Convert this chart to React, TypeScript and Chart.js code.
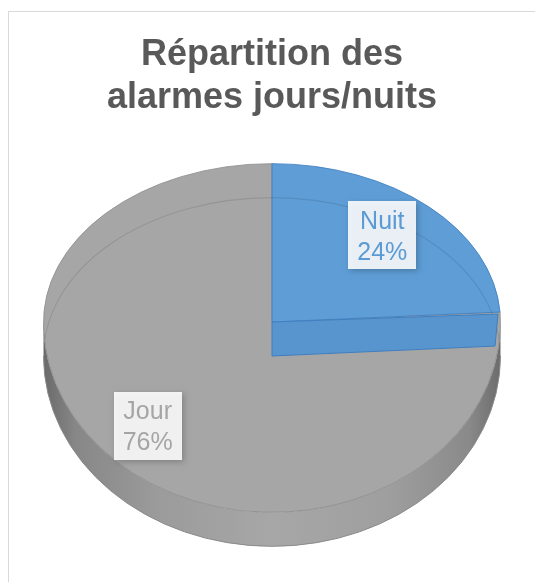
import React, { useEffect, useRef } from "react";
import { Chart, registerables } from "chart.js";

Chart.register(...registerables);

// ---- data ----
const categories = ["Nuit", "Jour"];
const values = [24, 76];
const percentLabels = ["24%", "76%"];
const titleLines = ["Répartition des", "alarmes jours/nuits"];

// ---- styles ----
const sliceColors = ["#5e9dd6", "#a6a6a6"];
const borderColors = ["#3f7fc0", "#8e8e8e"];
const labelColors = ["#5b9bd5", "#a5a5a5"];
const FONT = '"Liberation Sans", Arial, sans-serif';

const FACE_CY = 310; // canvas y of top-face centre
const K_UP = 0.693;
const K_DOWN = 0.833;
const DEPTH = 34;
const LABEL_SHIFT_X = -7;

const pie3d = {
  id: "pie3d",
  beforeDatasetsDraw(chart: any) {
    const arcs = chart.getDatasetMeta(0).data;
    if (!arcs.length) return false;
    const ctx: CanvasRenderingContext2D = chart.ctx;
    const cx = arcs[0].x;
    const cy = arcs[0].y;
    const R = arcs[0].outerRadius;
    const fy = FACE_CY;

    // side walls (front half only)
    const grad = ctx.createLinearGradient(cx - R, 0, cx + R, 0);
    grad.addColorStop(0, "#6a6a6a");
    grad.addColorStop(0.07, "#878787");
    grad.addColorStop(0.25, "#9b9b9b");
    grad.addColorStop(0.5, "#a7a7a7");
    grad.addColorStop(0.75, "#9f9f9f");
    grad.addColorStop(0.93, "#8a8a8a");
    grad.addColorStop(1, "#6c6c6c");
    arcs.forEach((arc: any, i: number) => {
      const a0 = Math.max(arc.startAngle, 0);
      const a1 = Math.min(arc.endAngle, Math.PI);
      if (a1 <= a0) return;
      ctx.beginPath();
      ctx.ellipse(cx, fy, R, R * K_DOWN, 0, a0, a1);
      ctx.ellipse(cx, fy + DEPTH, R, R * K_DOWN, 0, a1, a0, true);
      ctx.closePath();
      ctx.fillStyle = i === 1 ? grad : "#4f8bc4";
      ctx.fill();
    });
    ctx.beginPath();
    ctx.ellipse(cx, fy + DEPTH, R, R * K_DOWN, 0, 0, Math.PI);
    ctx.strokeStyle = "#8a8a8a";
    ctx.lineWidth = 1;
    ctx.stroke();

    // top faces, drawn by the library's arc elements
    const drawFaces = (top: number, bottom: number, k: number) => {
      ctx.save();
      ctx.beginPath();
      ctx.rect(0, top, chart.width, bottom - top);
      ctx.clip();
      ctx.translate(0, fy);
      ctx.scale(1, k);
      ctx.translate(0, -cy);
      for (let i = arcs.length - 1; i >= 0; i--) arcs[i].draw(ctx);
      ctx.restore();
    };
    drawFaces(0, fy, K_UP);
    drawFaces(fy, chart.height, K_DOWN);

    // faint back outline of the bottom seen through the top
    ctx.save();
    ctx.beginPath();
    ctx.ellipse(cx, fy, R, R * K_UP, 0, Math.PI, 2 * Math.PI);
    ctx.ellipse(cx, fy, R, R * K_DOWN, 0, 0, Math.PI);
    ctx.clip();
    ctx.beginPath();
    ctx.ellipse(cx, fy + DEPTH, R, R * K_UP, 0, Math.PI, 2 * Math.PI);
    ctx.strokeStyle = "rgba(0,0,0,0.10)";
    ctx.lineWidth = 1.2;
    ctx.stroke();
    ctx.restore();

    // radial wall of the first slice (as rendered in the original)
    const ea = arcs[0].endAngle;
    const px = cx + R * Math.cos(ea) - 2;
    const py = fy + R * K_UP * Math.sin(ea) + 2;
    ctx.beginPath();
    ctx.moveTo(cx, fy);
    ctx.lineTo(px, py);
    ctx.lineTo(px - 3, py + DEPTH - 2);
    ctx.lineTo(cx, fy + DEPTH);
    ctx.closePath();
    ctx.fillStyle = "#5895ce";
    ctx.fill();
    ctx.strokeStyle = "#3f7fc0";
    ctx.lineWidth = 1;
    ctx.stroke();
    return false;
  },
  afterDraw(chart: any) {
    const arcs = chart.getDatasetMeta(0).data;
    if (!arcs.length) return;
    const ctx: CanvasRenderingContext2D = chart.ctx;
    const fy = FACE_CY;
    arcs.forEach((arc: any, i: number) => {
      const mid = (arc.startAngle + arc.endAngle) / 2;
      const r = arc.outerRadius * 0.75;
      const s = Math.sin(mid);
      const lx = arc.x + r * Math.cos(mid) + LABEL_SHIFT_X;
      const ly = fy + r * s * (s < 0 ? K_UP : K_DOWN);
      const lines = [categories[i], percentLabels[i]];
      ctx.save();
      ctx.font = `25px ${FONT}`;
      const w = Math.max(...lines.map((t) => ctx.measureText(t).width)) + 18;
      const h = 68;
      ctx.shadowColor = "rgba(0,0,0,0.25)";
      ctx.shadowBlur = 6;
      ctx.shadowOffsetX = 2;
      ctx.shadowOffsetY = 2;
      ctx.fillStyle = "rgba(255,255,255,0.88)";
      ctx.fillRect(Math.round(lx - w / 2), Math.round(ly - h / 2), Math.round(w), h);
      ctx.restore();
      ctx.save();
      ctx.font = `25px ${FONT}`;
      ctx.fillStyle = labelColors[i];
      ctx.textAlign = "center";
      ctx.textBaseline = "middle";
      ctx.fillText(lines[0], lx, ly - 15.5 + 2);
      ctx.fillText(lines[1], lx, ly + 15.5 + 2);
      ctx.restore();
    });
  },
};

export default function App() {
  const ref = useRef<HTMLCanvasElement | null>(null);
  useEffect(() => {
    if (!ref.current) return;
    const chart = new Chart(ref.current, {
      type: "pie",
      data: {
        labels: categories,
        datasets: [
          {
            data: values,
            backgroundColor: sliceColors,
            borderColor: borderColors,
            borderWidth: 1,
            hoverOffset: 0,
          },
        ],
      },
      options: {
        animation: false,
        responsive: false,
        devicePixelRatio: 1,
        events: [],
        layout: { padding: { left: 34, right: 35, top: 0, bottom: 0 } },
        plugins: {
          legend: { display: false },
          tooltip: { enabled: false },
          title: {
            display: true,
            text: titleLines,
            color: "#595959",
            font: { family: FONT, size: 36, weight: "bold", lineHeight: 1.2 },
            padding: { top: 21, bottom: 4 },
          },
        },
      },
      plugins: [pie3d],
    });
    return () => chart.destroy();
  }, []);

  return (
    <div style={{ position: "fixed", left: 0, top: 0, width: 535, height: 582, overflow: "hidden", background: "#fff" }}>
      <div
        style={{
          position: "absolute",
          left: 8,
          top: 11,
          width: 540,
          height: 600,
          border: "1px solid #d9d9d9",
          background: "#fff",
        }}
      >
        <canvas ref={ref} width={527} height={570} style={{ display: "block", width: 527, height: 570 }} />
      </div>
    </div>
  );
}
